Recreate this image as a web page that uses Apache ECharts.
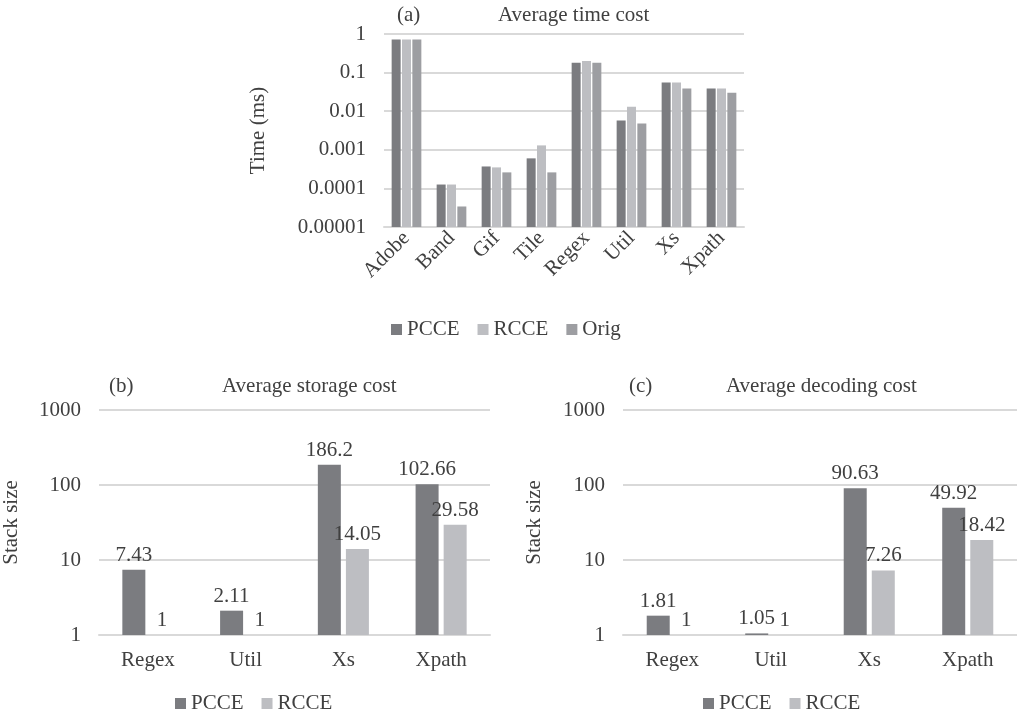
<!DOCTYPE html>
<html lang="en">
<head>
    <meta charset="UTF-8">
    <title>Average cost</title>
    <script src="https://cdn.jsdelivr.net/npm/echarts@6/dist/echarts.min.js"></script>
    <style>
        html, body { margin: 0; padding: 0; background: #fff; }
        #main { width: 1017px; height: 714px; }
    </style>
</head>
<body>
<div id="main"></div>
<script>
    // (a) time cost, in ms
    var timeCats = ['Adobe', 'Band', 'Gif', 'Tile', 'Regex', 'Util', 'Xs', 'Xpath'];
    var timePCCE = [0.72, 0.000126, 0.00037, 0.0006, 0.18, 0.0057, 0.055, 0.039];
    var timeRCCE = [0.72, 0.000126, 0.00035, 0.0013, 0.2, 0.013, 0.055, 0.039];
    var timeOrig = [0.72, 0.000034, 0.00026, 0.00026, 0.18, 0.0048, 0.039, 0.030];
    var timeTicks = ['0.00001', '0.0001', '0.001', '0.01', '0.1', '1'];

    // (b) storage cost, (c) decoding cost
    var stackCats = ['Regex', 'Util', 'Xs', 'Xpath'];
    var storePCCE = [7.43, 2.11, 186.2, 102.66];
    var storeRCCE = [1, 1, 14.05, 29.58];
    var decodePCCE = [1.81, 1.05, 90.63, 49.92];
    var decodeRCCE = [1, 1, 7.26, 18.42];
    var stackTicks = ['1', '10', '100', '1000'];

    var font = "'Liberation Serif', 'Times New Roman', serif";
    var fs = 21;
    var txt = '#404040';
    var cDark = '#7b7c80';
    var cLight = '#bdbec2';
    var cMid = '#9d9ea2';
    var gridCol = '#d9d9d9';

    // echarts log bars grow from 1, so chart (a) is drawn on a scale shifted by 1e5
    var timeShift = 1e5;
    function shift(arr) {
        return arr.map(function (v) { return v * timeShift; });
    }

    function catAxis(idx, data, rotate) {
        return {
            type: 'category', gridIndex: idx, data: data,
            axisLine: {lineStyle: {color: gridCol, width: 2}},
            axisTick: {show: false},
            axisLabel: {color: txt, fontFamily: font, fontSize: fs, rotate: rotate, margin: rotate ? 8 : 15}
        };
    }
    function logAxis(idx, max, ticks, name, gap) {
        return {
            type: 'log', logBase: 10, gridIndex: idx, min: 1, max: max,
            name: name, nameLocation: 'middle', nameGap: gap,
            nameTextStyle: {color: txt, fontFamily: font, fontSize: fs},
            axisLine: {show: false}, axisTick: {show: false},
            splitLine: {lineStyle: {color: gridCol, width: 2}},
            axisLabel: {
                color: txt, fontFamily: font, fontSize: fs, margin: 18,
                formatter: function (v) {
                    return ticks[Math.round(Math.log10(v))];
                }
            }
        };
    }
    function label() {
        return {show: true, position: 'top', distance: 4, color: txt, fontFamily: font, fontSize: fs};
    }
    var ts = {color: txt, fontFamily: font, fontSize: fs, fontWeight: 'normal'};
    var ls = {color: txt, fontFamily: font, fontSize: fs};

    var myChart = echarts.init(document.getElementById('main'));
    var option = {
        animation: false,
        textStyle: {fontFamily: font},
        title: [
            {text: '(a)', left: 392, top: 0, textStyle: ts},
            {text: 'Average time cost', left: 493, top: 0, textStyle: ts},
            {text: '(b)', left: 104, top: 371, textStyle: ts},
            {text: 'Average storage cost', left: 217, top: 371, textStyle: ts},
            {text: '(c)', left: 624, top: 371, textStyle: ts},
            {text: 'Average decoding cost', left: 721, top: 371, textStyle: ts}
        ],
        legend: [
            {data: ['PCCE', 'RCCE', 'Orig'], left: 386, top: 314, icon: 'rect', itemWidth: 11, itemHeight: 11, itemGap: 18,
                textStyle: ls, selectedMode: false},
            {data: ['PCCE', 'RCCE'], left: 170, top: 688, icon: 'rect', itemWidth: 11, itemHeight: 11, itemGap: 18,
                textStyle: ls, selectedMode: false},
            {data: ['PCCE', 'RCCE'], left: 698, top: 688, icon: 'rect', itemWidth: 11, itemHeight: 11, itemGap: 18,
                textStyle: ls, selectedMode: false}
        ],
        grid: [
            {left: 384, right: 273, top: 34, bottom: 487},
            {left: 94, right: 527, top: 410, bottom: 79},
            {left: 623, right: 0, top: 410, bottom: 79}
        ],
        xAxis: [
            catAxis(0, timeCats, 45),
            catAxis(1, stackCats, 0),
            catAxis(2, stackCats, 0)
        ],
        yAxis: [
            logAxis(0, timeShift, timeTicks, 'Time (ms)', 115),
            logAxis(1, 1000, stackTicks, 'Stack size', 77),
            logAxis(2, 1000, stackTicks, 'Stack size', 78)
        ],
        series: [
            {name: 'PCCE', type: 'bar', xAxisIndex: 0, yAxisIndex: 0, data: shift(timePCCE), barWidth: 9, barGap: '15%', itemStyle: {color: cDark}},
            {name: 'RCCE', type: 'bar', xAxisIndex: 0, yAxisIndex: 0, data: shift(timeRCCE), barWidth: 9, barGap: '15%', itemStyle: {color: cLight}},
            {name: 'Orig', type: 'bar', xAxisIndex: 0, yAxisIndex: 0, data: shift(timeOrig), barWidth: 9, barGap: '15%', itemStyle: {color: cMid}},
            {name: 'PCCE', type: 'bar', xAxisIndex: 1, yAxisIndex: 1, data: storePCCE, barWidth: 23, barGap: '22%', itemStyle: {color: cDark}, label: label()},
            {name: 'RCCE', type: 'bar', xAxisIndex: 1, yAxisIndex: 1, data: storeRCCE, barWidth: 23, barGap: '22%', itemStyle: {color: cLight}, label: label()},
            {name: 'PCCE', type: 'bar', xAxisIndex: 2, yAxisIndex: 2, data: decodePCCE, barWidth: 23, barGap: '22%', itemStyle: {color: cDark}, label: label()},
            {name: 'RCCE', type: 'bar', xAxisIndex: 2, yAxisIndex: 2, data: decodeRCCE, barWidth: 23, barGap: '22%', itemStyle: {color: cLight}, label: label()}
        ]
    };
    myChart.setOption(option);
</script>
</body>
</html>
